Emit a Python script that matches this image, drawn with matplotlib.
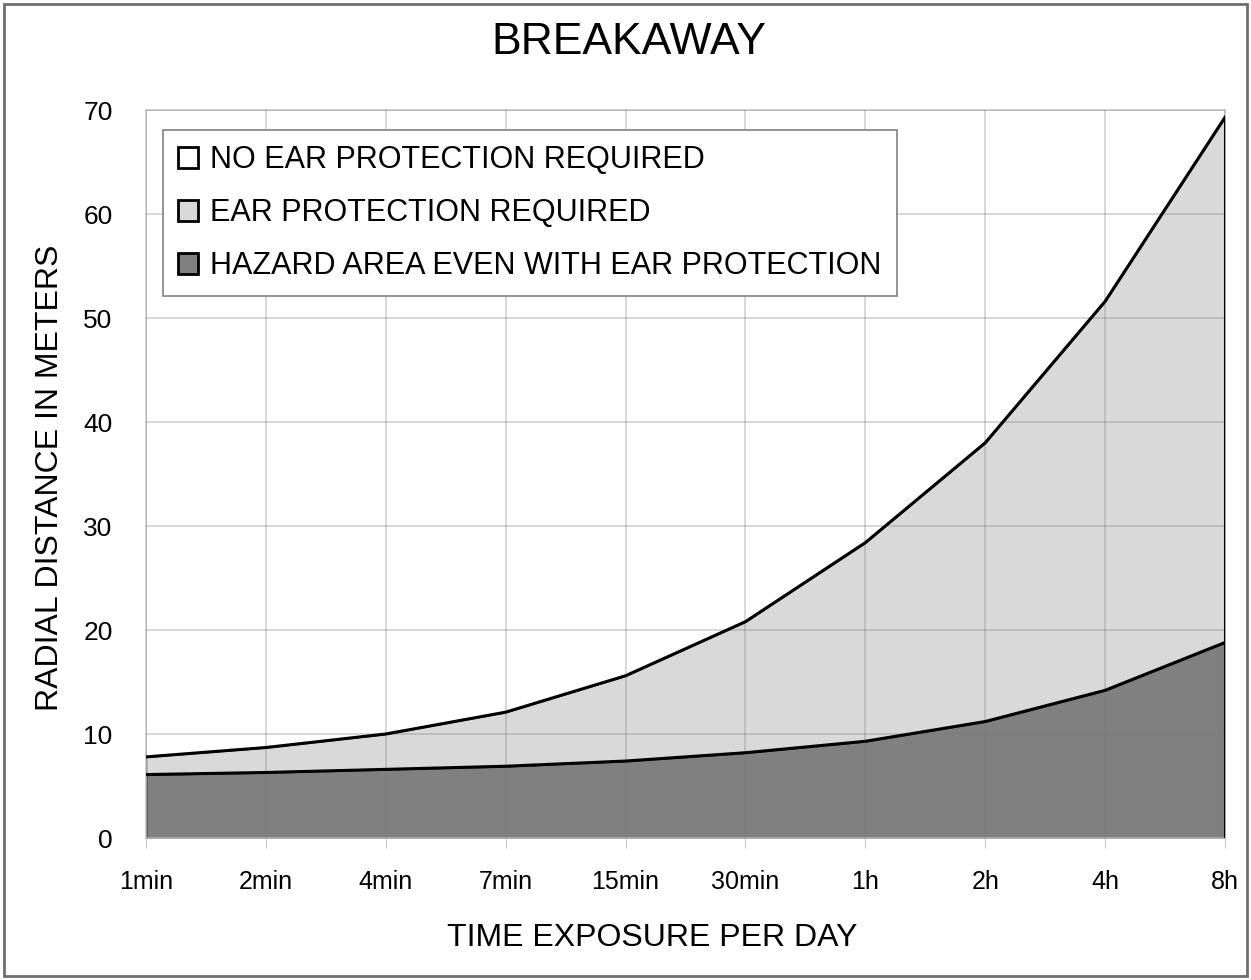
import matplotlib
matplotlib.use("Agg")
import matplotlib.pyplot as plt
from matplotlib.patches import Patch, Rectangle

plt.rcParams['font.family'] = ['Liberation Sans', 'DejaVu Sans']

# Exposure times on the x axis
time_labels = ['1min', '2min', '4min', '7min', '15min', '30min', '1h', '2h', '4h', '8h']
# Upper boundary: ear protection required up to this distance
protection_limit = [7.8, 8.7, 10.0, 12.1, 15.6, 20.8, 28.4, 38.0, 51.6, 69.3]
# Lower boundary: hazard even with ear protection
hazard_limit = [6.1, 6.3, 6.6, 6.9, 7.4, 8.2, 9.3, 11.2, 14.2, 18.8]

legend_labels = ['NO EAR PROTECTION REQUIRED',
                 'EAR PROTECTION REQUIRED',
                 'HAZARD AREA EVEN WITH EAR PROTECTION']

light_grey = '#d9d9d9'
dark_grey = '#808080'

fig = plt.figure(figsize=(12.51, 9.8), dpi=100)
ax = fig.add_axes([146 / 1251, 1 - 838 / 980, 1079 / 1251, 728 / 980])

x = list(range(len(time_labels)))

# Filled regions
ax.fill_between(x, hazard_limit, protection_limit, facecolor=light_grey,
                edgecolor='#222222', linewidth=1.0, zorder=1)
ax.fill_between(x, 0, hazard_limit, facecolor=dark_grey,
                edgecolor='#222222', linewidth=1.2, zorder=1)
ax.plot(x, protection_limit, color='black', linewidth=2.2, zorder=4)
ax.plot(x, hazard_limit, color='black', linewidth=2.2, zorder=4)
ax.plot([x[-1], x[-1]], [0, protection_limit[-1]], color='black', linewidth=2.2, zorder=4)

ax.set_xlim(0, len(time_labels) - 1)
ax.set_ylim(0, 70)
ax.set_xticks(x)
ax.set_xticklabels(time_labels, fontsize=18)
ax.set_yticks(range(0, 71, 10))
ax.tick_params(axis='y', length=0, pad=24, labelsize=19)
ax.tick_params(axis='x', length=7, color='#c8c8c8', pad=16)

ax.grid(True, color='#7a7a7a', alpha=0.35, linewidth=1.2, zorder=3)
ax.set_axisbelow(False)
for s in ax.spines.values():
    s.set_color('#c8c8c8')
    s.set_linewidth(1.2)

fig.text(652 / 1251, 1 - 938 / 980, 'TIME EXPOSURE PER DAY', ha='center', va='center', fontsize=23)
fig.text(50 / 1251, 1 - 478 / 980, 'RADIAL DISTANCE IN METERS', ha='center', va='center',
         rotation=90, fontsize=23)
fig.text(629 / 1251, 1 - 42 / 980, 'BREAKAWAY', ha='center', va='center', fontsize=32)

handles = [Patch(facecolor='white', edgecolor='black', linewidth=2),
           Patch(facecolor=light_grey, edgecolor='black', linewidth=2),
           Patch(facecolor=dark_grey, edgecolor='black', linewidth=2)]
leg = ax.legend(handles, legend_labels, loc='upper left',
                bbox_to_anchor=(17 / 1079, 1 - 20 / 728), borderaxespad=0,
                fontsize=22, handlelength=0.65, handleheight=0.65,
                handletextpad=0.4, labelspacing=0.75, borderpad=0.5,
                fancybox=False, framealpha=1, edgecolor='#808080')
leg.get_frame().set_linewidth(1.2)
leg.set_zorder(5)

# Grey border around the whole picture
fig.patches.append(Rectangle((4 / 1251, 4 / 980), 1 - 8 / 1251, 1 - 8 / 980,
                             transform=fig.transFigure, fill=False,
                             edgecolor='#6e6e6e', linewidth=2))

fig.savefig('out.png', dpi=100)
